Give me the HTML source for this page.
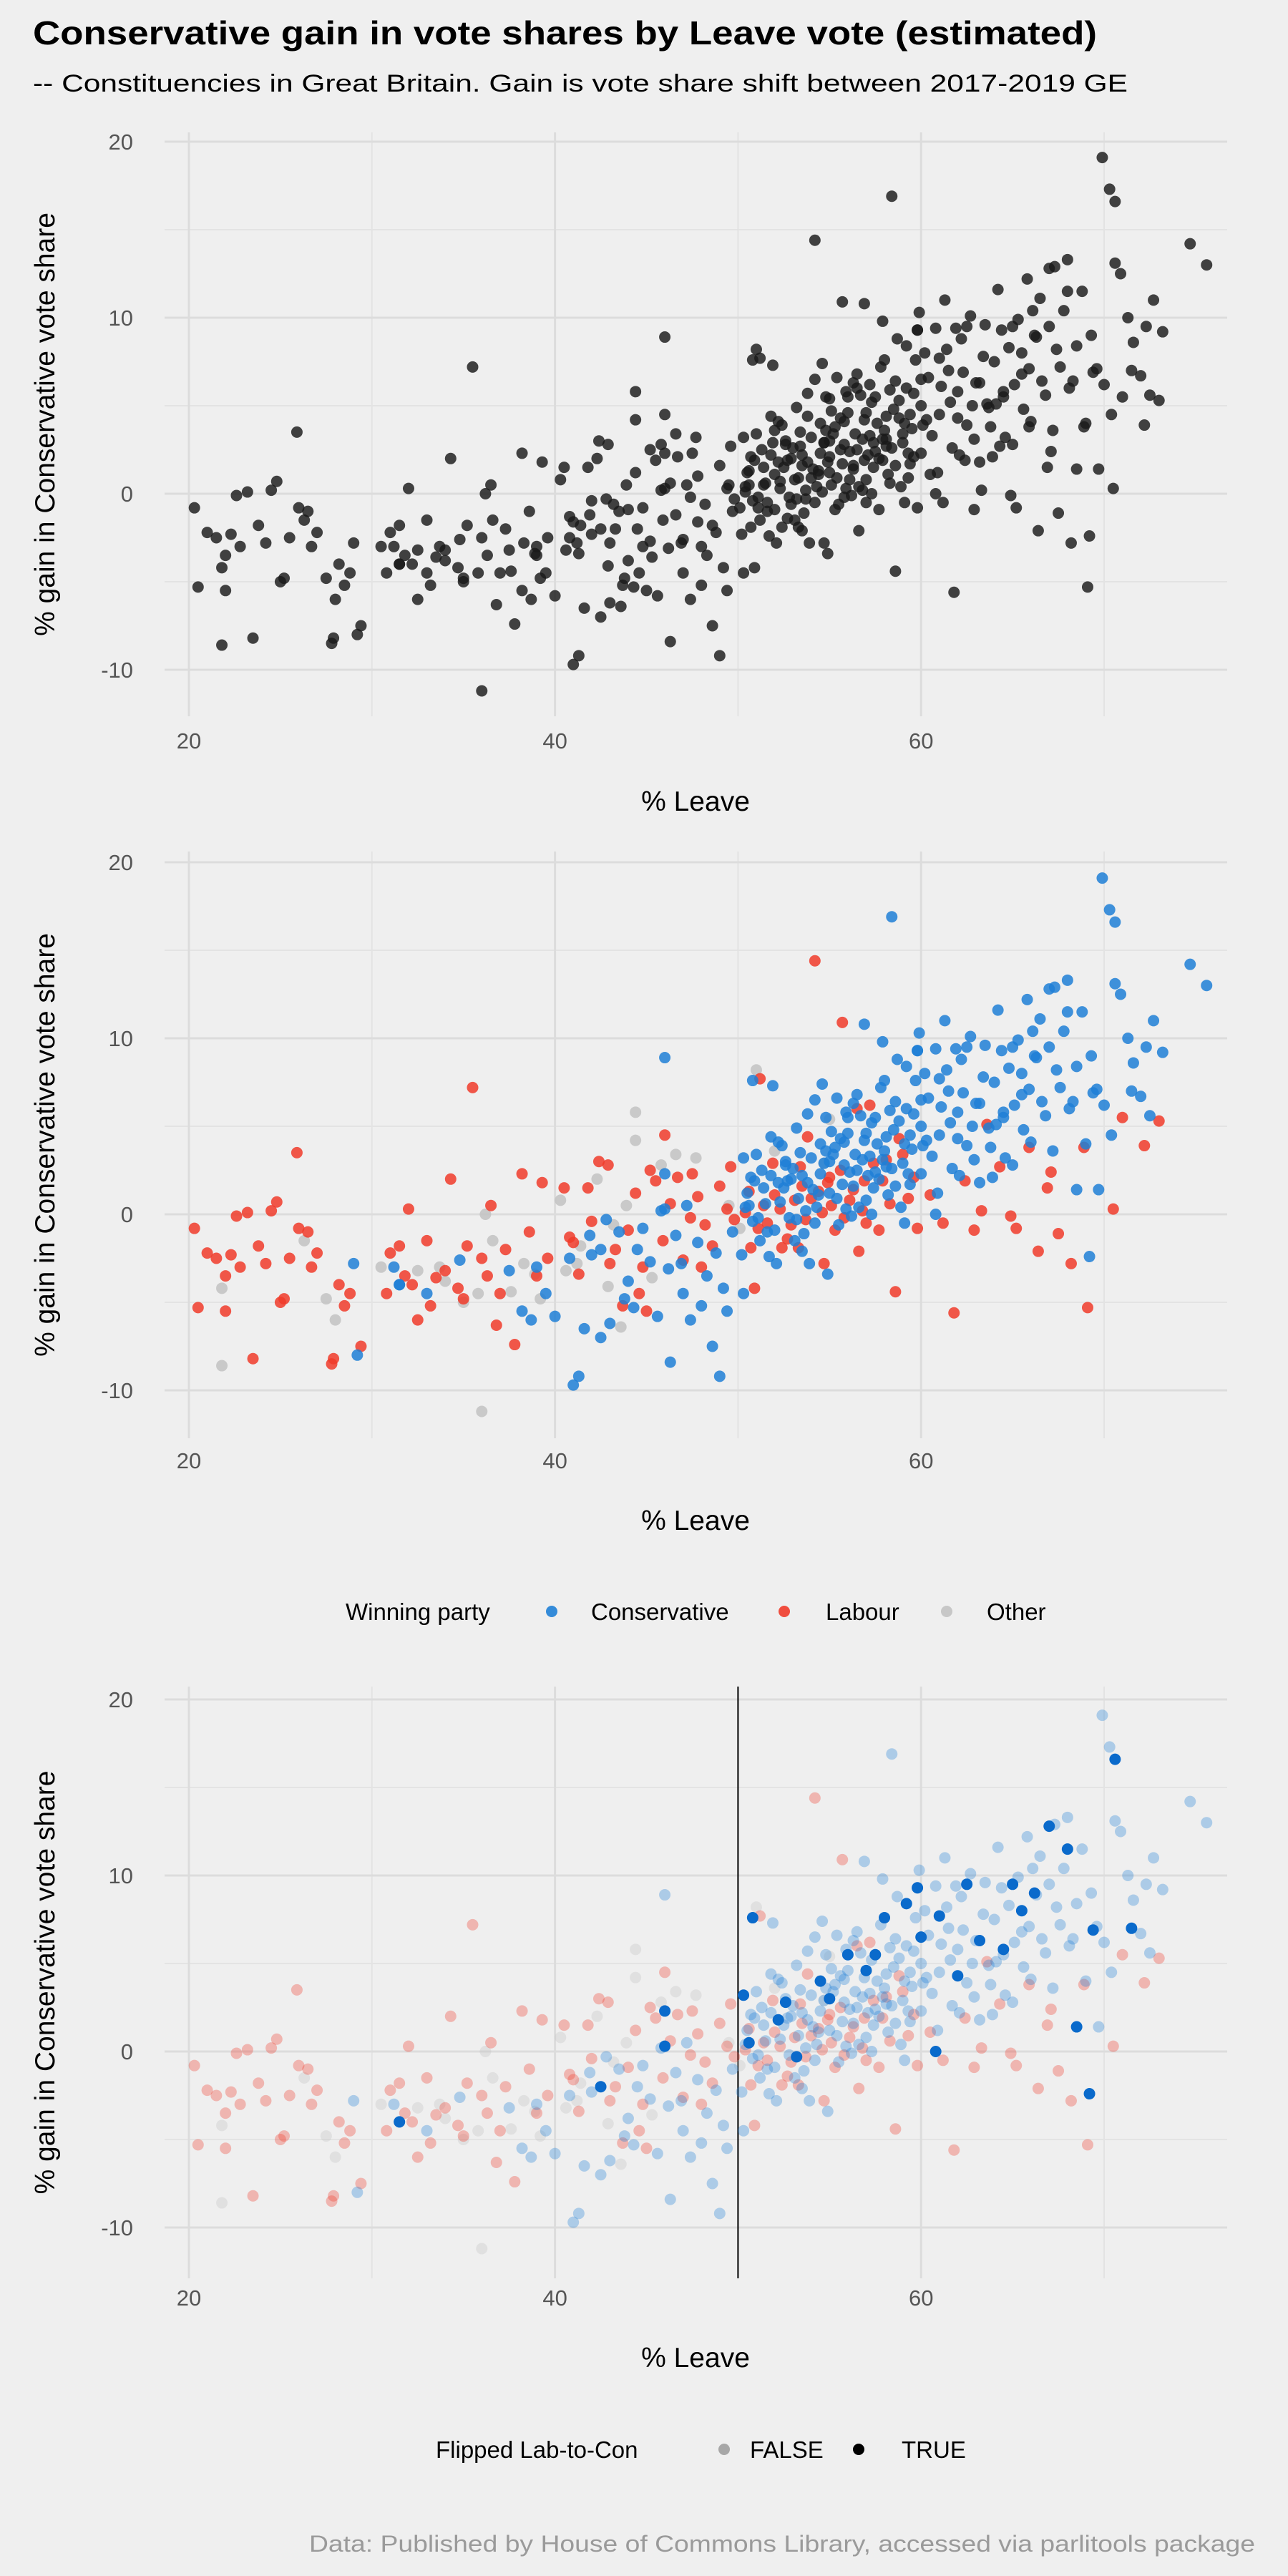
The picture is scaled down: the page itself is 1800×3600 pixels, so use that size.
<!DOCTYPE html>
<html><head><meta charset="utf-8">
<style>
html,body{margin:0;padding:0;background:#efefef;}
svg{display:block;font-family:"Liberation Sans",sans-serif;}
</style></head>
<body>
<svg id="chart" width="1800" height="3600" viewBox="0 0 1800 3600" xmlns="http://www.w3.org/2000/svg">
<rect width="1800" height="3600" fill="#efefef"/>
<text x="46" y="62" font-size="46" font-weight="bold" fill="#000" textLength="1487" lengthAdjust="spacingAndGlyphs">Conservative gain in vote shares by Leave vote (estimated)</text>
<text x="46" y="128" font-size="34" fill="#000" textLength="1530" lengthAdjust="spacingAndGlyphs">-- Constituencies in Great Britain. Gain is vote share shift between 2017-2019 GE</text>
<g id="p1"></g>
<g id="p2"></g>
<g id="p3"></g>
<text x="1754" y="3566" font-size="32" fill="#9a9a9a" text-anchor="end" textLength="1322" lengthAdjust="spacingAndGlyphs">Data: Published by House of Commons Library, accessed via parlitools package</text>
</svg>
<script>
const xTicks = [20, 40, 60];
const xMinor = [30, 50, 70];
const yTicks = [-10, 0, 10, 20];
const yMinor = [-5, 5, 15];
// [leave, gain, flipped]
const conPts = [
[29,-2.8,0],[29.2,-8,0],[31.2,-3,0],[31.5,-4,0],[33,-4.5,0],[34.8,-2.6,0],[37.5,-3.2,0],[38.2,-5.5,0],[38.7,-6,0],[39.5,-4.5,0],[40,-5.8,0],[39,-3,0],
[40.8,-2.5,0],[41,-9.7,0],[41.3,-9.2,0],[41.6,-6.5,0],[42,-2.3,0],[42.5,-7,0],[43,-6.2,0],[43.5,-1,0],[44,-3.8,0],[44.3,-5.3,0],[44.8,-0.8,0],[45.2,-2.7,0],[45.6,-5.8,0],[46,8.9,0],[46.3,-8.4,0],[46.2,-3.1,0],[46.6,-1.2,0],[47,-4.5,0],[47.4,-6,0],[47.8,-1.6,0],[48.3,-3.5,0],[48.8,-2.2,0],[49,-9.2,0],[49.4,-5.5,0],[49.7,-1,0],[42.8,-0.3,0],[44.5,-2,0],[45.8,0.2,0],[47.2,0.5,0],[48.6,-7.5,0],[49.2,-4.2,0],[43.8,-4.8,0],[41.9,-1.2,0],[46.9,-2.8,0],[48,-5.2,0],
[50.2,-2.3,0],[50.5,1.2,0],[50.8,-0.4,0],[51,3.4,0],[51.2,-1.5,0],[51.5,0.6,0],[51.8,2.2,0],[52,-0.9,0],[52.2,4.1,0],[52.5,1.5,0],[52.8,-0.2,0],[53,2.6,0],[53.3,0.9,0],[53.5,-2.1,0],[53.8,1.8,0],[54,3.2,0],[54.3,0.4,0],[54.5,2.3,0],[54.8,5.5,0],[55,1.2,0],[55.3,3.8,0],[55.5,-0.6,0],[55.8,2.8,0],[56,4.6,0],[56.3,1.6,0],[56.5,6.8,0],[56.8,3.1,0],[57,0.8,0],[57.3,5.2,0],[57.5,2.4,0],[57.8,7.2,0],[58,3.6,0],[58.2,1.1,0],[58.5,4.8,0],[58.7,8.8,0],[59,2.9,0],[59.2,6,0],[59.5,3.7,0],[59.8,9.3,0],[60,5,0],[51.3,2.5,0],[52.6,3,0],[53.6,-1.1,0],[54.2,6.5,0],[55.6,4.3,0],[56.2,-0.1,0],[57.1,2.2,0],[58.3,5.9,0],[59.4,1.7,0],[50.9,1.9,0],[52.1,-2.8,0],[54.6,7.4,0],[55.9,0.3,0],[57.6,4,0],[58.9,0.4,0],[59.7,7.6,0],[56.7,5.6,0],[53.2,4.9,0],[51.7,-2.4,0],[58.1,2.7,0],[55.2,3.4,0],[57.9,9.8,0],[58.4,16.9,0],[59.9,10.3,0],[60.2,8,0],[56.9,10.8,0],[52.9,2,0],[54.9,-3.4,0],[50.3,-4.5,0],[51.9,7.3,0],[53.9,-2.8,0],[59.1,-0.5,0],[57.4,1.5,0],[55.4,6.6,0],[54.1,1.4,0],[56.4,3.4,0],[58.6,6.4,0],[60,2.3,0],
[50.4,0.4,0],[50.7,2.1,0],[51.1,-0.2,0],[51.4,1.5,0],[51.6,-1,0],[52.3,0.7,0],[52.7,1.9,0],[53.1,-1.5,0],[53.4,3.5,0],[53.7,0.2,0],[54.4,1.1,0],[54.7,2.9,0],[55.1,4.7,0],[55.4,0.9,0],[55.7,1.7,0],[56.1,2.4,0],[56.6,0.4,0],[56.9,4.2,0],[57.2,3.3,0],[57.7,2,0],[58.1,4.4,0],[58.4,2.6,0],[58.8,5.3,0],[59.1,4,0],[59.3,2.3,0],[59.6,5.7,0],[60.1,3.9,0],[53.5,2.2,0],[54.8,3.6,0],[55.9,5.8,0],[56.3,6.3,0],[57.3,0,0],[58.6,1.6,0],[52.4,3.9,0],[54.2,-0.5,0],[55.8,4.1,0],[56.5,2.5,0],[57.9,3.1,0],[59.4,4.5,0],[51.8,4.4,0],[53.8,5.7,0],
[60.4,6.6,0],[60.6,3.3,0],[60.8,9.4,0],[61,4.5,0],[61.3,11,0],[61.5,7,0],[61.7,2.6,0],[62,5.8,0],[62.2,8.8,0],[62.5,3.9,0],[62.7,10.1,0],[63,6.3,0],[63.2,1.8,0],[63.5,9.6,0],[63.7,4.9,0],[64,7.5,0],[64.2,11.6,0],[64.5,5.5,0],[64.8,8.3,0],[65,2.8,0],[65.3,9.9,0],[65.5,6.8,0],[65.8,12.2,0],[66,4.1,0],[66.3,8.9,0],[66.5,11.1,0],[66.8,5.6,0],[67,9.5,0],[67.3,12.9,0],[67.6,7.2,0],[67.8,10.4,0],[68,13.3,0],[68.3,6.4,0],[68.5,8.4,0],[68.8,11.5,0],[69,4,0],[69.3,9,0],[69.6,7.1,0],[69.9,19.1,0],[70,6.2,0],[70.3,17.3,0],[70.6,13.1,0],[70.9,12.5,0],[71.3,10,0],[71.6,8.6,0],[72,6.7,0],[72.3,9.5,0],[72.5,5.6,0],[72.7,11,0],[73.2,9.2,0],[74.7,14.2,0],[75.6,13,0],[69.7,1.4,0],[62.8,5,0],[64.6,3.2,0],[66.1,10.4,0],[67.2,3.6,0],[68.1,6,0],[63.9,2.1,0],[61.9,9.4,0],[60.9,1.2,0],[65.6,4.8,0],[70.4,4.5,0],
[60.3,4.2,0],[61.1,6.1,0],[61.6,5.2,0],[62.3,6.9,0],[62.9,3.1,0],[63.4,7.8,0],[64.1,5.1,0],[64.4,9.3,0],[65.1,6.2,0],[65.9,7.1,0],[66.6,6.4,0],[67.4,8.2,0],[62.1,2.2,0],[63.8,3.8,0],[61.4,8.2,0],
[42.5,-2,1],[46,0.3,1],[46,2.3,1],[50.3,3.2,1],[50.6,0.5,1],[50.8,7.6,1],[52.2,1.8,1],[52.6,2.8,1],[53.2,-0.3,1],[54.5,4,1],[56,5.5,1],[57.5,5.5,1],[58,7.6,1],[59.2,8.4,1],[59.8,9.3,1],[61,7.7,1],[62.5,9.5,1],[63.2,6.3,1],[64.5,5.8,1],[65,9.5,1],[66.2,9,1],[67,12.8,1],[68,11.5,1],[69.2,-2.4,1],[69.4,6.9,1],[70.6,16.6,1],[71.5,7,1],[68.5,1.4,1],[60.8,0,1],[55,3,1],[57,4.6,1],[60,6.5,1],[65.5,8,1],[62,4.3,1],[31.5,-4,1]
];
const labPts = [
[20.3,-0.8],[20.5,-5.3],[21,-2.2],[21.5,-2.5],[22,-3.5],[22.3,-2.3],[22.6,-0.1],[22.8,-3],[23.2,0.1],[23.5,-8.2],[23.8,-1.8],[24.2,-2.8],[24.5,0.2],[24.8,0.7],[25.2,-4.8],[25.5,-2.5],[25.9,3.5],[26,-0.8],[26.7,-3],[27,-2.2],[27.8,-8.5],[27.9,-8.2],[28.2,-4],[28.5,-5.2],[28.8,-4.5],[29.4,-7.5],[25,-5],[26.5,-1],[22,-5.5],
[31,-2.2],[31.5,-1.8],[31.8,-3.5],[32,0.3],[32.2,-4],[32.5,-6],[33,-1.5],[33.5,-3.6],[34,-3.2],[34.3,2],[34.7,-4.2],[35.2,-1.8],[35.5,7.2],[36,-2.5],[36.3,-3.5],[36.5,0.5],[37,-4.5],[37.3,-2],[37.8,-7.4],[38.2,2.3],[38.6,-1],[39,-3.5],[39.3,1.8],[39.6,-2.5],[30.8,-4.5],[33.2,-5.2],[35,-4.8],[36.8,-6.3],
[40.5,1.5],[40.8,-1.3],[41,-1.6],[41.3,-3.4],[41.8,1.5],[42,-0.4],[42.4,3],[42.9,2.8],[43.3,-2],[43.7,-5.2],[44,-0.9],[44.4,1.2],[44.8,-3],[45.2,2.5],[45.5,1.9],[45.9,-1.5],[46.3,0.6],[46.7,2.1],[47,-2.6],[47.4,-0.2],[47.8,1],[48.2,-0.6],[48.6,-1.8],[49,1.6],[49.4,0.3],[49.8,-0.3],[46,4.5],[47.5,2.3],[44.6,-4.5],[43,-2.8],[45,-5.5],[48,-3],[49.6,2.7],
[50.4,0.1],[50.7,-1.9],[51.1,-0.8],[51.6,-0.5],[52.3,0.3],[52.7,-1.4],[53.1,0.8],[53.4,2.7],[53.7,-0.3],[54.2,14.4],[54.4,1.3],[54.7,-2.8],[55.1,0.5],[55.6,2.5],[56.1,0.8],[56.6,-2.1],[56.9,1.9],[57.2,6.2],[57.7,-0.9],[58.1,3.1],[58.6,-4.4],[59.3,0.9],[59.6,2.1],[55.7,10.9],[56.5,6],[50.9,-4.2],[52.4,-1.9],[53.8,4.4],[55.3,-0.9],[58.8,4.3],[51.2,7.7],
[50.6,1.3],[51.4,0.5],[52,1.1],[52.9,-0.6],[53.3,-1.9],[54,0.9],[54.6,0.1],[55,2.1],[55.8,-0.2],[56.3,1.4],[57,-0.5],[57.4,2.9],[58.3,0.6],[59,3.4],[53.5,1.6],[54.9,1.8],[56.8,0.2],[51.9,2.9],[57.9,1.9],[59.8,-0.8],
[60.5,1.1],[61.2,-0.5],[61.8,-5.6],[62.4,1.9],[63.3,0.2],[64.3,2.7],[65.2,-0.8],[66.4,-2.1],[67.1,2.4],[68.2,-2.8],[69.1,-5.3],[70.5,0.3],[72.2,3.9],[73,5.3],[66.9,1.5],[65.9,3.8],[64.9,-0.1],[63.6,5.1],[68.9,3.8],[71,5.5],[67.5,-1.1],[62.9,-0.9]
];
const othPts = [
[21.8,-4.2],[21.8,-8.6],[26.3,-1.5],[27.5,-4.8],[28,-6],
[32.5,-3.2],[34,-3.8],[35,-5],[36,-11.2],[36.2,0],[36.6,-1.5],[37.6,-4.4],[38.3,-2.8],[38.9,-3.4],[39.2,-4.8],[33.7,-3],[35.8,-4.5],[30.5,-3],
[40.3,0.8],[40.6,-3.2],[41.4,-1.8],[42.3,2],[43.2,-0.6],[43.6,-6.4],[43.9,0.5],[44.4,4.2],[45.3,-3.6],[45.8,2.8],[46.6,3.4],[44.4,5.8],[47.7,3.2],[41.2,-2.8],[42.9,-4.1],
[51,8.2],[55,5.4],[52,3.6],[54.7,2.9],[49.5,0.5],[50.1,-0.8]
];

const NS = "http://www.w3.org/2000/svg";
function mk(tag, attrs, parent){const e=document.createElementNS(NS,tag);for(const k in attrs)e.setAttribute(k,attrs[k]);parent.appendChild(e);return e;}
const xScale = v => 264 + (v - 20) * 25.58;
const panels = [
 {id:"p1", y0:690, top:185, bottom:1001, xlab:1046, xtitle:1133, mode:0},
 {id:"p2", y0:1697, top:1190, bottom:2010, xlab:2052, xtitle:2138, mode:1},
 {id:"p3", y0:2867, top:2357, bottom:3184, xlab:3222, xtitle:3308, mode:2}
];
const COL = {C:"#1f7fd6", L:"#f03b2a", O:"#c2c2c2"};
panels.forEach(p=>{
 const g=document.getElementById(p.id);
 const yScale = v => p.y0 - v*24.6;
 yMinor.forEach(t=>{const l=mk("line",{x1:230,x2:1715,y1:yScale(t),y2:yScale(t),stroke:"#e3e3e3","stroke-width":2},g);
  });
 xMinor.forEach(t=>{const l=mk("line",{x1:xScale(t),x2:xScale(t),y1:p.top,y2:p.bottom,stroke:"#e3e3e3","stroke-width":2},g);
  });
 yTicks.forEach(t=>{const l=mk("line",{x1:230,x2:1715,y1:yScale(t),y2:yScale(t),stroke:"#dcdcdc","stroke-width":3},g);
  
  const tx=mk("text",{x:186,y:yScale(t)+11,"font-size":31,fill:"#555","text-anchor":"end"},g);tx.textContent=t;
  });
 xTicks.forEach(t=>{const l=mk("line",{x1:xScale(t),x2:xScale(t),y1:p.top,y2:p.bottom,stroke:"#dcdcdc","stroke-width":3},g);
  
  const tx=mk("text",{x:xScale(t),y:p.xlab,"font-size":31,fill:"#555","text-anchor":"middle"},g);tx.textContent=t;
  });
 const xt=mk("text",{x:972,y:p.xtitle,"font-size":39,fill:"#000","text-anchor":"middle"},g);xt.textContent="% Leave";
 
 const cy=(p.top+p.bottom)/2;
 const yt=mk("text",{x:0,y:0,"font-size":39,fill:"#000","text-anchor":"middle",transform:`translate(76,${cy}) rotate(-90)`},g);yt.textContent="% gain in Conservative vote share";
 
 if(p.mode===2){const vl=mk("line",{x1:xScale(50),x2:xScale(50),y1:p.top,y2:p.bottom,stroke:"#000","stroke-width":2},g);
  }
 const all=[];
 othPts.forEach(d=>all.push([d[0],d[1],"O",0]));
 labPts.forEach(d=>all.push([d[0],d[1],"L",0]));
 conPts.forEach(d=>all.push([d[0],d[1],"C",d[2]]));
 all.sort((a,b)=>a[3]-b[3]);
 all.forEach(d=>{
  let fill,op;
  if(p.mode===0){fill="#1a1a1a";op=0.82;}
  else if(p.mode===1){fill=COL[d[2]];op=0.85;}
  else {fill=d[3]?"#0a6acb":COL[d[2]];op=d[3]?1:0.32;}
  const c=mk("circle",{cx:xScale(d[0]),cy:yScale(d[1]),r:8,fill:fill,"fill-opacity":op},g);
  
  
 });
});
const svg=document.getElementById("chart");
const lg2=mk("g",{},svg);


const l2=[["Winning party",483,null],["Conservative",826,771,COL.C],["Labour",1154,1096,COL.L],["Other",1379,1323,COL.O]];
l2.forEach(e=>{
 const t=mk("text",{x:e[1],y:2264,"font-size":33,fill:"#000"},lg2);t.textContent=e[0];
 
 if(e[2]){const c=mk("circle",{cx:e[2],cy:2252,r:8,fill:e[3],"fill-opacity":0.9},lg2);
  }
});
const lg3=mk("g",{},svg);


const l3=[["Flipped Lab-to-Con",609,null],["FALSE",1048,1012,"#000",0.3],["TRUE",1260,1200,"#000",1]];
l3.forEach(e=>{
 const t=mk("text",{x:e[1],y:3435,"font-size":33,fill:"#000"},lg3);t.textContent=e[0];
 
 if(e[2]){const c=mk("circle",{cx:e[2],cy:3423,r:8,fill:e[3],"fill-opacity":e[4]},lg3);
  }
});
</script>
</body></html>
